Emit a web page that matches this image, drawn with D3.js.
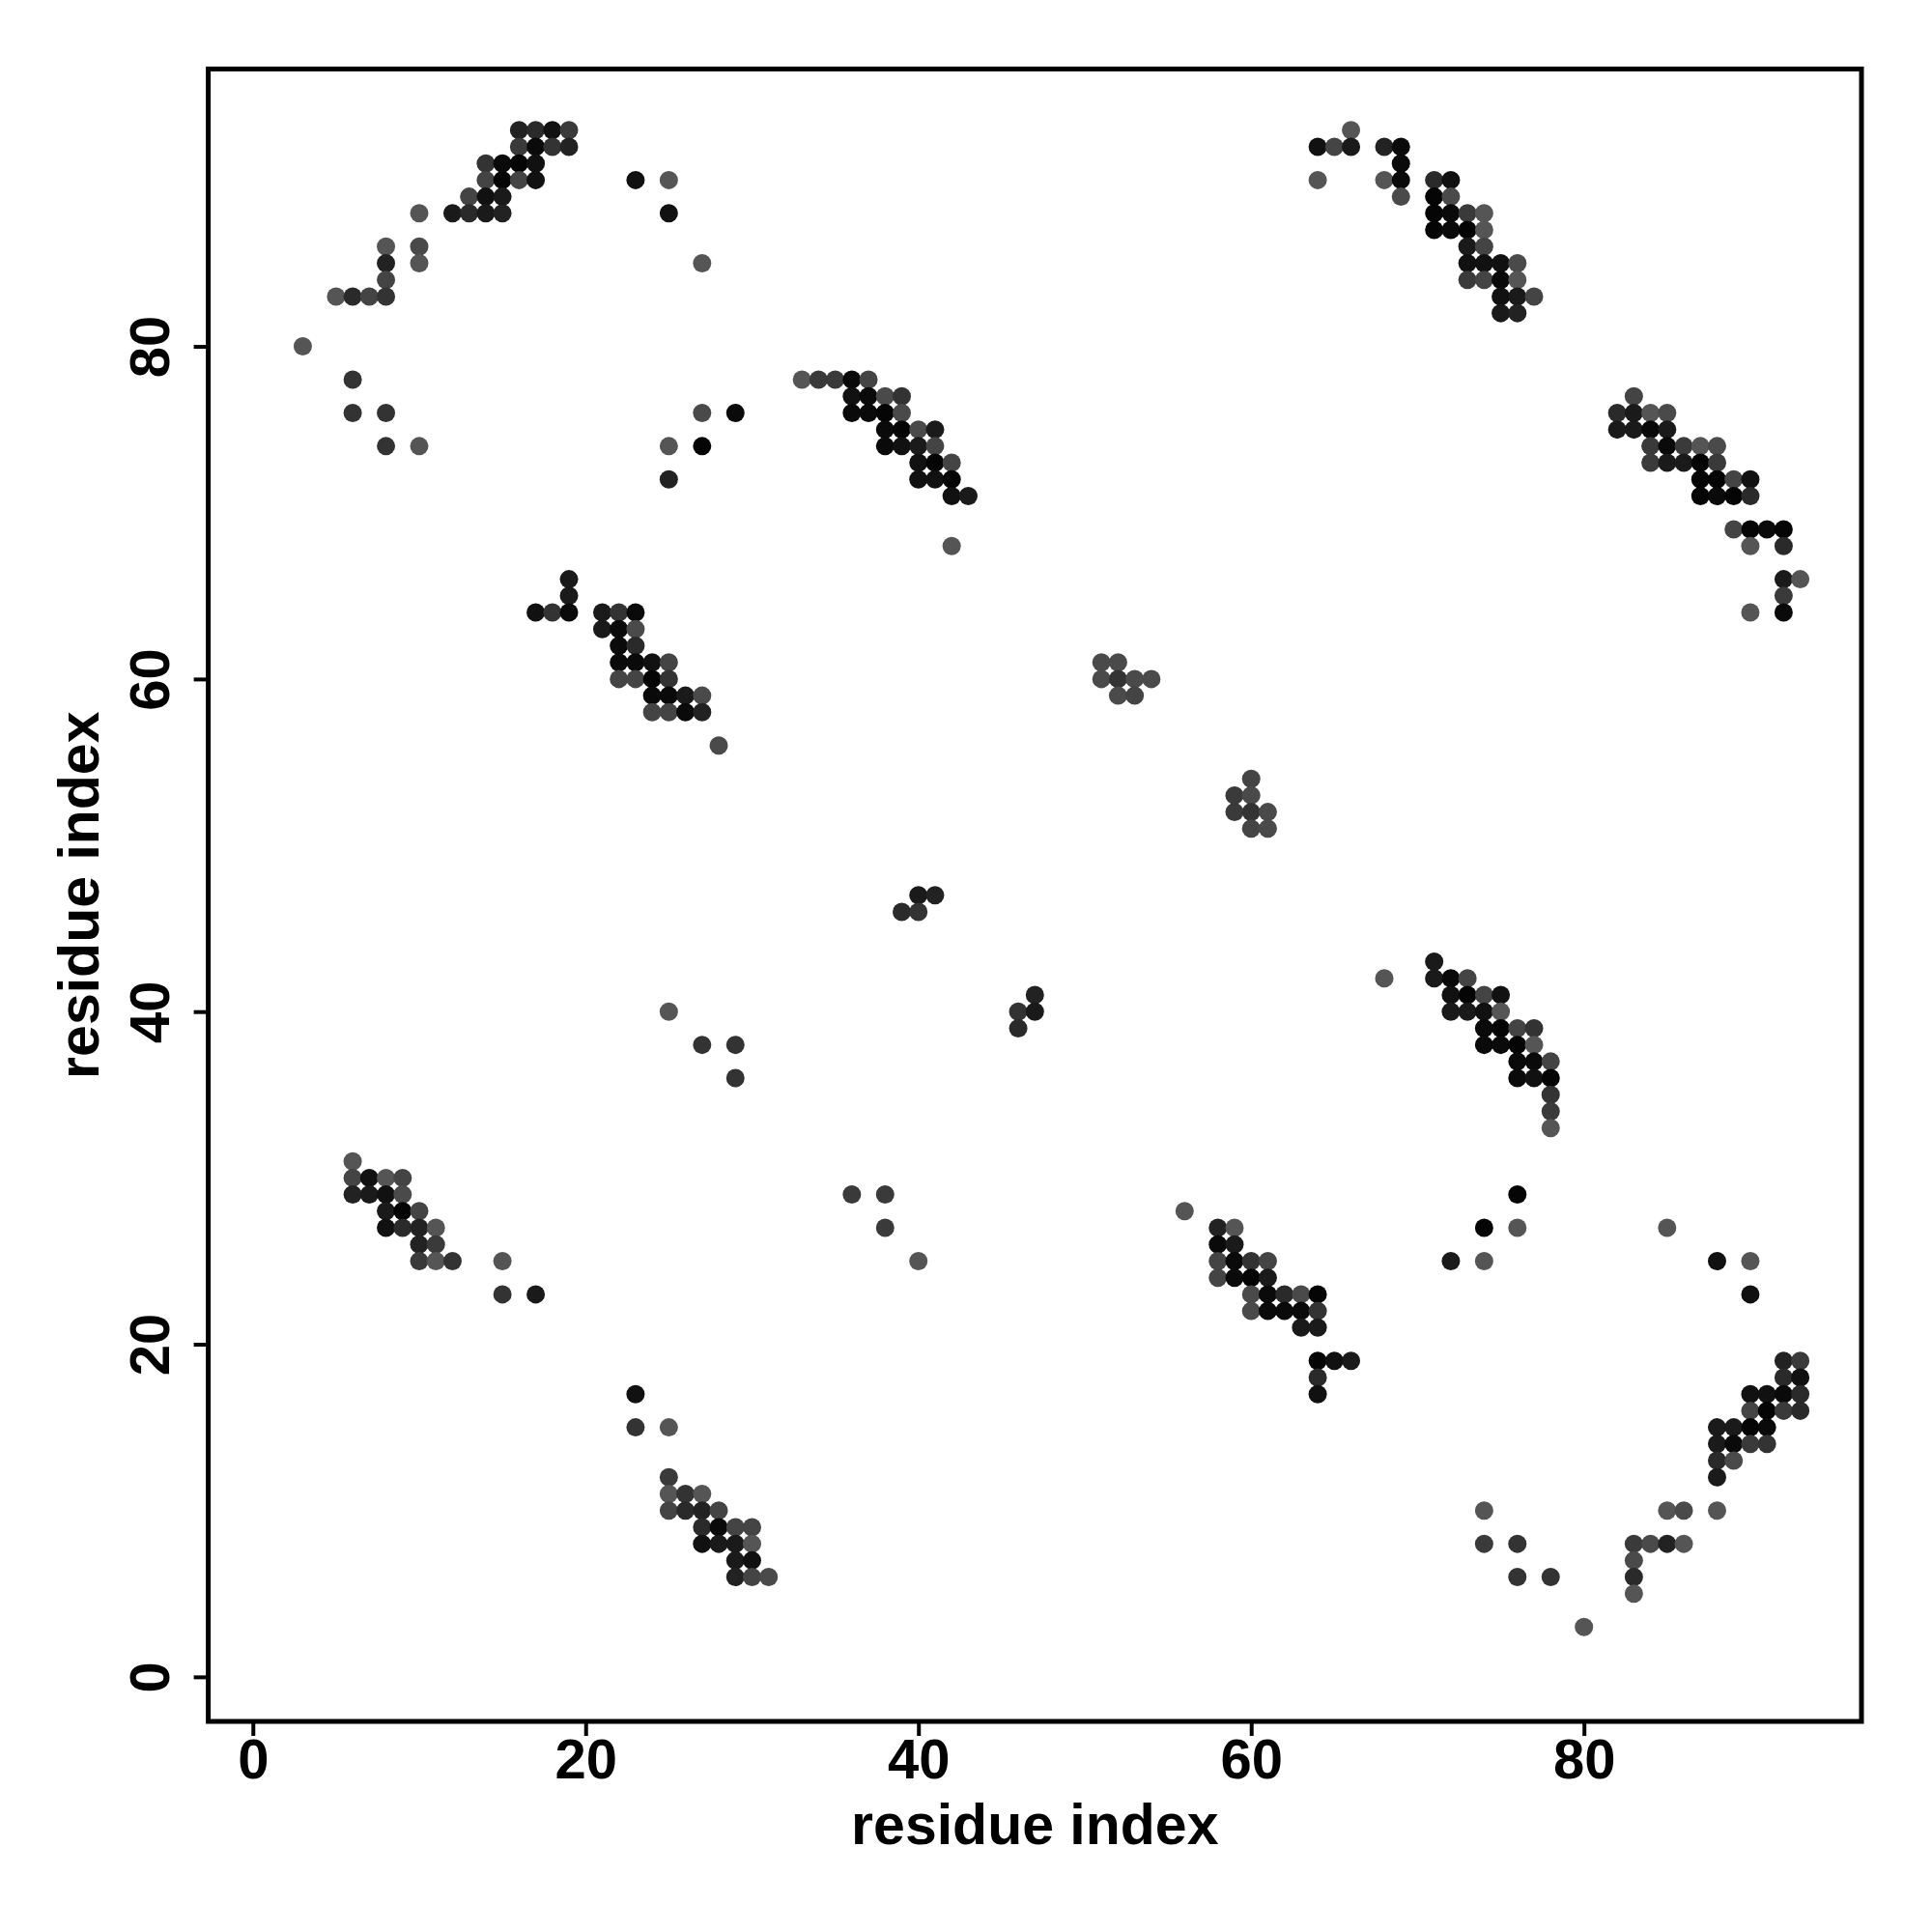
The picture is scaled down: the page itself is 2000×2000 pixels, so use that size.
<!DOCTYPE html>
<html>
<head>
<meta charset="utf-8">
<script src="https://cdn.jsdelivr.net/npm/d3@7"></script>
<style>
  html, body { margin: 0; padding: 0; background: #ffffff; }
  svg { display: block; }
  text { font-family: "Liberation Sans", Arial, Helvetica, sans-serif; font-weight: bold; }
</style>
</head>
<body>
<svg id="chart" width="2000" height="2000"></svg>
<script>
// ---- data: [residue i, residue j, contact strength 0..1] ----
const topLeft = [
  [16,93,.66],[17,93,.56],[18,93,.86],[19,93,.38],
  [16,92,.38],[17,92,.94],[18,92,.46],[19,92,.66],
  [14,91,.46],[15,91,.94],[16,91,1.0],[17,91,.86],
  [14,90,.26],[15,90,1.0],[16,90,.26],[17,90,.86],
  [13,89,.26],[14,89,.86],[15,89,.75],
  [10,88,.06],[12,88,.75],[13,88,.56],[14,88,.75],[15,88,.66],
  [8,86,.06],[10,86,.19],
  [8,85,.66],[10,85,.06],
  [8,84,.26],
  [5,83,.06],[6,83,.56],[7,83,.26],[8,83,.46],
  [3,80,.06],
  [6,78,.46],
  [6,76,.46],[8,76,.46],
  [8,74,.46],[10,74,.06]
];
const topMiddle = [
  [23,90,.86],[25,90,.06],[25,88,.86],[27,85,.06],
  [33,78,.06],[34,78,.38],[35,78,.38],[36,78,.94],[37,78,.26],
  [36,77,.86],[37,77,.94],[38,77,.19],[39,77,.46],
  [27,76,.19],[29,76,.94],[36,76,.94],[37,76,.94],[38,76,1.0],[39,76,.19],
  [38,75,.94],[39,75,1.0],[40,75,.19],[41,75,.75],
  [25,74,.06],[27,74,1.0],[38,74,.94],[39,74,.86],[40,74,.75],[41,74,.26],
  [40,73,.86],[41,73,1.0],[42,73,.26],
  [25,72,.66],[40,72,.86],[41,72,.86],[42,72,1.0],
  [42,71,.86],[43,71,.75],
  [42,68,.06]
];
const topRight = [
  [66,93,.06],
  [64,92,.86],[65,92,.26],[66,92,.75],[68,92,.66],[69,92,.94],
  [69,91,.94],
  [64,90,.06],[68,90,.06],[69,90,.94],[71,90,.56],[72,90,.86],
  [69,89,.19],[71,89,1.0],[72,89,.19],
  [71,88,1.0],[72,88,.94],[73,88,.38],[74,88,.06],
  [71,87,1.0],[72,87,.94],[73,87,1.0],[74,87,.06],
  [73,86,.75],[74,86,.26],
  [73,85,.86],[74,85,.86],[75,85,.86],[76,85,.19],
  [73,84,.38],[74,84,.26],[75,84,.94],[76,84,.06],
  [75,83,.86],[76,83,.75],[77,83,.26],
  [75,82,.75],[76,82,.66]
];
const rightUpper = [
  [83,77,.26],
  [82,76,.56],[83,76,.75],[84,76,.06],[85,76,.19],
  [82,75,.75],[83,75,.75],[84,75,.94],[85,75,.75],
  [84,74,.38],[85,74,.94],[86,74,.38],[87,74,.06],[88,74,.19],
  [84,73,.38],[85,73,.75],[86,73,.75],[87,73,1.0],[88,73,.38],
  [87,72,1.0],[88,72,1.0],[89,72,.26],[90,72,.86],
  [87,71,1.0],[88,71,.94],[89,71,1.0],[90,71,.56],
  [89,69,.26],[90,69,1.0],[91,69,.94],[92,69,1.0],
  [90,68,.06],[92,68,.56],
  [92,66,.75],[93,66,.06],
  [92,65,.38],
  [90,64,.06],[92,64,.94]
];
const middleLeft = [
  [19,66,.75],[19,65,.75],
  [17,64,.86],[18,64,.46],[19,64,.94],[21,64,.75],[22,64,.46],[23,64,.94],
  [21,63,.75],[22,63,.94],[23,63,.19],
  [22,62,.94],[23,62,.56],
  [22,61,.94],[23,61,.94],[24,61,.86],[25,61,.26],
  [22,60,.26],[23,60,.26],[24,60,1.0],[25,60,.46],
  [24,59,.94],[25,59,.94],[26,59,.75],[27,59,.19],
  [24,58,.26],[25,58,.26],[26,58,.94],[27,58,.66],
  [28,56,.19]
];
const centre = [
  [51,61,.19],[52,61,.19],
  [51,60,.19],[52,60,.46],[53,60,.19],[54,60,.19],
  [52,59,.19],[53,59,.26],
  [60,54,.26],
  [59,53,.38],[60,53,.19],
  [59,52,.38],[60,52,.46],[61,52,.19],
  [60,51,.26],[61,51,.19],
  [40,47,.75],[41,47,.66],
  [39,46,.56],[40,46,.46],
  [47,41,.66],
  [25,40,.06],[46,40,.46],[47,40,.75],
  [46,39,.56],
  [27,38,.46],[29,38,.46],
  [29,36,.46]
];
const rightMiddle = [
  [71,43,.75],
  [68,42,.06],[71,42,.75],[72,42,.94],[73,42,.26],
  [72,41,.86],[73,41,1.0],[74,41,.26],[75,41,.86],
  [72,40,.75],[73,40,.75],[74,40,.86],[75,40,.06],
  [74,39,.94],[75,39,1.0],[76,39,.26],[77,39,.46],
  [74,38,.94],[75,38,.94],[76,38,1.0],[77,38,.06],
  [76,37,.94],[77,37,.94],[78,37,.26],
  [76,36,.94],[77,36,.86],[78,36,1.0],
  [78,35,.46],[78,34,.38],[78,33,.06]
];
const bottomLeft = [
  [6,31,.06],
  [6,30,.26],[7,30,.86],[8,30,.06],[9,30,.26],
  [6,29,.66],[7,29,.75],[8,29,.86],[9,29,.19],
  [8,28,.75],[9,28,1.0],[10,28,.26],
  [8,27,.86],[9,27,.56],[10,27,.66],[11,27,.06],
  [10,26,.66],[11,26,.38],
  [10,25,.38],[11,25,.06],[12,25,.46],[15,25,.06],
  [15,23,.46],[17,23,.75],
  [23,17,.86],
  [23,15,.46],[25,15,.06],
  [25,12,.38],
  [25,11,.06],[26,11,.46],[27,11,.06],
  [25,10,.26],[26,10,.56],[27,10,.66],[28,10,.26],
  [27,9,.56],[28,9,.94],[29,9,.26],[30,9,.26],
  [27,8,.86],[28,8,.75],[29,8,.75],[30,8,.06],
  [29,7,.75],[30,7,.86],
  [29,6,.66],[30,6,.26],[31,6,.19]
];
const bottomMiddle = [
  [36,29,.38],[38,29,.38],[38,27,.38],[40,25,.06],
  [56,28,.06],
  [58,27,.66],[59,27,.06],
  [58,26,.94],[59,26,.75],
  [58,25,.26],[59,25,.94],[60,25,.46],[61,25,.26],
  [58,24,.26],[59,24,.94],[60,24,1.0],[61,24,.75],
  [60,23,.19],[61,23,.94],[62,23,.56],[63,23,.19],[64,23,1.0],
  [60,22,.19],[61,22,.94],[62,22,.94],[63,22,.94],[64,22,.46],
  [63,21,.75],[64,21,.75],
  [64,19,1.0],[65,19,.86],[66,19,.75],
  [64,18,.56],[64,17,.86]
];
const bottomRight = [
  [76,29,1.0],
  [74,27,1.0],[76,27,.06],[85,27,.06],
  [72,25,.75],[74,25,.06],[88,25,.86],[90,25,.06],
  [90,23,.86],
  [92,19,.66],[93,19,.38],
  [92,18,.56],[93,18,.86],
  [90,17,.86],[91,17,.86],[92,17,.94],[93,17,.56],
  [90,16,.26],[91,16,1.0],[92,16,.38],[93,16,.56],
  [88,15,.75],[89,15,.75],[90,15,1.0],[91,15,.94],
  [88,14,.75],[89,14,.94],[90,14,.38],[91,14,.46],
  [88,13,.56],[89,13,.19],
  [88,12,.75],
  [74,10,.06],[85,10,.06],[86,10,.19],[88,10,.06],
  [74,8,.38],[76,8,.46],[83,8,.38],[84,8,.19],[85,8,.66],[86,8,.06],
  [83,7,.19],
  [76,6,.46],[78,6,.46],[83,6,.56],
  [83,5,.06],
  [80,3,.06]
];
const xTicks = [0, 20, 40, 60, 80];
const yTicks = [0, 20, 40, 60, 80];
const xLabel = "residue index";
const yLabel = "residue index";
const residueRange = [1, 93];

// ---- drawing ----
const points = [].concat(topLeft, topMiddle, topRight, rightUpper, middleLeft,
                         centre, rightMiddle, bottomLeft, bottomMiddle, bottomRight);

const plot = { left: 215.6, right: 1927, top: 71.4, bottom: 1782 };
const pad = (residueRange[1] - residueRange[0]) * 0.04;
const domain = [residueRange[0] - pad, residueRange[1] + pad];

const x = d3.scaleLinear().domain(domain).range([plot.left, plot.right]);
const y = d3.scaleLinear().domain(domain).range([plot.bottom, plot.top]);
const shade = d3.scaleLinear().domain([0, 1]).range(["#5a5a5a", "#050505"]);

const svg = d3.select("#chart");
svg.append("rect").attr("width", 2000).attr("height", 2000).attr("fill", "#ffffff");

svg.append("g")
  .selectAll("circle")
  .data(points)
  .join("circle")
  .attr("cx", d => x(d[0]))
  .attr("cy", d => y(d[1]))
  .attr("r", 9.5)
  .attr("fill", d => shade(d[2]));

const fontSize = 58;

const gx = svg.append("g")
  .attr("transform", `translate(0,${plot.bottom})`)
  .call(d3.axisBottom(x).tickValues(xTicks).tickSize(15).tickFormat(d3.format("d")));
gx.select(".domain").remove();
gx.selectAll(".tick line").attr("stroke", "#000").attr("stroke-width", 4);
gx.selectAll(".tick text")
  .attr("y", 59).attr("dy", null)
  .attr("fill", "#000")
  .style("font-size", fontSize + "px")
  .style("font-weight", "bold")
  .style("font-family", '"Liberation Sans", Arial, sans-serif');

const gy = svg.append("g")
  .attr("transform", `translate(${plot.left},0)`)
  .call(d3.axisLeft(y).tickValues(yTicks).tickSize(15).tickFormat(d3.format("d")));
gy.select(".domain").remove();
gy.selectAll(".tick line").attr("stroke", "#000").attr("stroke-width", 4);
gy.selectAll(".tick text")
  .attr("x", 0).attr("y", -41).attr("dy", null)
  .attr("transform", "rotate(-90)")
  .attr("text-anchor", "middle")
  .attr("fill", "#000")
  .style("font-size", fontSize + "px")
  .style("font-weight", "bold")
  .style("font-family", '"Liberation Sans", Arial, sans-serif');

// plot frame
svg.append("rect")
  .attr("x", plot.left).attr("y", plot.top)
  .attr("width", plot.right - plot.left).attr("height", plot.bottom - plot.top)
  .attr("fill", "none").attr("stroke", "#000").attr("stroke-width", 5);

// axis titles
svg.append("text")
  .attr("x", (plot.left + plot.right) / 2).attr("y", 1909)
  .attr("text-anchor", "middle")
  .style("font-size", "59px")
  .text(xLabel);

svg.append("text")
  .attr("transform", `translate(102,${(plot.top + plot.bottom) / 2}) rotate(-90)`)
  .attr("text-anchor", "middle")
  .style("font-size", "59px")
  .text(yLabel);
</script>
</body>
</html>
